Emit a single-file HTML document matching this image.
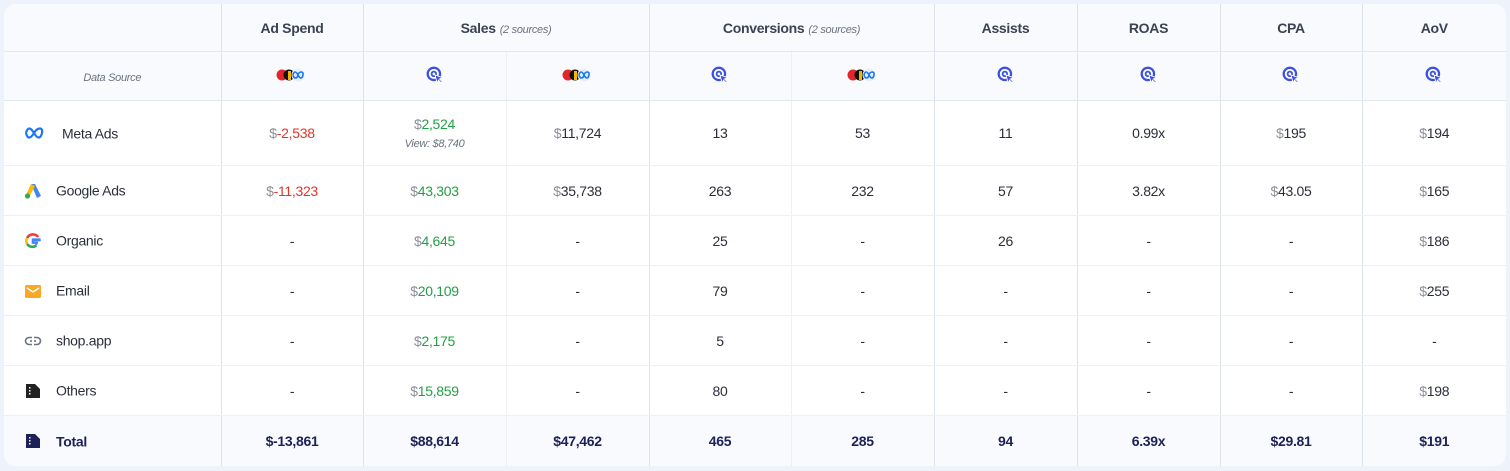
<!DOCTYPE html>
<html><head><meta charset="utf-8"><style>
html,body{margin:0;padding:0;width:1510px;height:471px;background:#eef2fb;overflow:hidden;font-family:"Liberation Sans",sans-serif;}
.card{position:absolute;left:4px;top:4px;width:1502px;height:462px;background:#fff;border-radius:12px;overflow:hidden;}
table{border-collapse:collapse;table-layout:fixed;width:1502px;}
td{padding:0;text-align:center;font-size:14px;color:#2b2f3a;letter-spacing:-0.3px;border-bottom:1px solid #edf0f5;}
td+td{border-left:1px solid #dde3ec;}
td.sub{border-left:1px solid #edf0f5;}
tr.h td{background:#f8fafd;font-weight:bold;color:#3a4253;border-bottom:1px solid #e3e8ef;}
tr.h1 td{height:47px;}
tr.h2 td{height:48px;}
tr.r td{height:49px;}
tr.meta td{height:64px;}
tr.t td{background:#f8fafd;font-weight:bold;color:#1e2157;border-bottom:none;height:50px;}
td.name{text-align:left;padding-left:20px;}
.ic{display:inline-block;width:18px;height:18px;vertical-align:middle;margin-right:14px;}
.nm{vertical-align:middle;}
.d{color:#8a8f99;font-weight:normal;}
.g{color:#22a045;}
.red{color:#e0352b;}
.src{font-style:italic;font-weight:normal;color:#6b7280;font-size:11px;margin-left:4px;}
.view{font-size:11px;font-style:italic;color:#6b7280;display:block;margin-top:6px;}
.ds{font-size:11px;font-style:italic;color:#6b7280;font-weight:normal;}
</style></head><body>
<div class="card">
<svg width="0" height="0" style="position:absolute">
<defs>
<symbol id="tg" viewBox="0 0 16 16"><circle cx="7" cy="7" r="5.5" fill="none" stroke="#3b4fe0" stroke-width="2"/><circle cx="7" cy="7" r="2" fill="none" stroke="#3b4fe0" stroke-width="1.6"/><path d="M8 8 L15 10.5 L12 11.5 L14.5 14 L13.5 15 L11 12.5 L10 15.5 Z" fill="#3b4fe0" stroke="#fff" stroke-width="0.8"/></symbol>
<symbol id="ml" viewBox="0 0 32 16"><circle cx="6" cy="8" r="5.5" fill="#e3262b"/><circle cx="13" cy="8" r="5.5" fill="#111"/><rect x="12" y="4" width="3" height="9" fill="#f4b400"/><circle cx="22" cy="8" r="6.5" fill="#e8eef8"/><path d="M17 8c1-4 3-4 5 0s4 4 5 0-4-4-5 0-4 4-5 0" fill="none" stroke="#1877f2" stroke-width="1.6"/></symbol>
</defs></svg>
<table>
<colgroup><col style="width:217px"><col style="width:142px"><col style="width:143px"><col style="width:143px"><col style="width:142px"><col style="width:143px"><col style="width:143px"><col style="width:143px"><col style="width:142px"><col style="width:144px"></colgroup>
<tr class="h h1"><td></td><td>Ad Spend</td><td colspan="2">Sales<span class="src">(2 sources)</span></td><td colspan="2">Conversions<span class="src">(2 sources)</span></td><td>Assists</td><td>ROAS</td><td>CPA</td><td>AoV</td></tr>
<tr class="h h2"><td><span class="ds">Data Source</span></td>
<td><svg width="32" height="16"><use href="#ml"/></svg></td>
<td><svg width="18" height="18"><use href="#tg"/></svg></td>
<td class="sub"><svg width="32" height="16"><use href="#ml"/></svg></td>
<td><svg width="18" height="18"><use href="#tg"/></svg></td>
<td class="sub"><svg width="32" height="16"><use href="#ml"/></svg></td>
<td><svg width="18" height="18"><use href="#tg"/></svg></td>
<td><svg width="18" height="18"><use href="#tg"/></svg></td>
<td><svg width="18" height="18"><use href="#tg"/></svg></td>
<td><svg width="18" height="18"><use href="#tg"/></svg></td></tr>
<tr class="r meta"><td class="name"><svg class="ic" style="width:20px;margin-right:18px" viewBox="0 0 20 12"><path d="M2 6c1.5-6 4.5-6 8 0s6.5 6 8 0-4.5-6-8 0-6.5 6-8 0" fill="none" stroke="#1877f2" stroke-width="2.2"/></svg><span class="nm">Meta Ads</span></td>
<td><span class="d">$</span><span class="red">-2,538</span></td>
<td><span class="d">$</span><span class="g">2,524</span><span class="view">View: $8,740</span></td>
<td class="sub"><span class="d">$</span>11,724</td><td>13</td><td class="sub">53</td><td>11</td><td>0.99x</td><td><span class="d">$</span>195</td><td><span class="d">$</span>194</td></tr>
<tr class="r"><td class="name"><svg class="ic" viewBox="0 0 18 18"><path d="M7 2 L11 2 L17 14 L13 16 Z" fill="#4285f4"/><path d="M7 2 L11 4 L5 15 L2 13 Z" fill="#fbbc04"/><circle cx="3.5" cy="14" r="2.6" fill="#34a853"/></svg><span class="nm">Google Ads</span></td>
<td><span class="d">$</span><span class="red">-11,323</span></td><td><span class="d">$</span><span class="g">43,303</span></td><td class="sub"><span class="d">$</span>35,738</td><td>263</td><td class="sub">232</td><td>57</td><td>3.82x</td><td><span class="d">$</span>43.05</td><td><span class="d">$</span>165</td></tr>
<tr class="r"><td class="name"><svg class="ic" viewBox="0 0 18 18"><path d="M15.5 9.2c0-.5 0-1-.1-1.5H9v2.9h3.7a3.2 3.2 0 0 1-1.4 2.1" fill="none" stroke="#4285f4" stroke-width="2.6"/><path d="M14.2 5A6.6 6.6 0 0 0 3.1 6" fill="none" stroke="#ea4335" stroke-width="2.6"/><path d="M3.1 6a6.6 6.6 0 0 0 0 6" fill="none" stroke="#fbbc05" stroke-width="2.6"/><path d="M3.1 12a6.6 6.6 0 0 0 9.3 1.6" fill="none" stroke="#34a853" stroke-width="2.6"/></svg><span class="nm">Organic</span></td>
<td>-</td><td><span class="d">$</span><span class="g">4,645</span></td><td class="sub">-</td><td>25</td><td class="sub">-</td><td>26</td><td>-</td><td>-</td><td><span class="d">$</span>186</td></tr>
<tr class="r"><td class="name"><svg class="ic" viewBox="0 0 18 18"><rect x="1" y="3" width="16" height="13" rx="1.5" fill="#f9a825"/><path d="M3 6 L9 10 L15 6" fill="none" stroke="#fff" stroke-width="1.5"/></svg><span class="nm">Email</span></td>
<td>-</td><td><span class="d">$</span><span class="g">20,109</span></td><td class="sub">-</td><td>79</td><td class="sub">-</td><td>-</td><td>-</td><td>-</td><td><span class="d">$</span>255</td></tr>
<tr class="r"><td class="name"><svg class="ic" viewBox="0 0 18 18"><rect x="1.5" y="5.5" width="15" height="7" rx="3.5" fill="none" stroke="#6b7280" stroke-width="1.6"/><line x1="6" y1="9" x2="12" y2="9" stroke="#6b7280" stroke-width="1.6"/><rect x="8" y="4" width="2" height="10" fill="#fff"/></svg><span class="nm">shop.app</span></td>
<td>-</td><td><span class="d">$</span><span class="g">2,175</span></td><td class="sub">-</td><td>5</td><td class="sub">-</td><td>-</td><td>-</td><td>-</td><td>-</td></tr>
<tr class="r"><td class="name"><svg class="ic" viewBox="0 0 18 18"><path d="M2 2 H11 L16 7 V16 H2 Z" fill="#222" /><rect x="5" y="5" width="1.5" height="1.5" fill="#fff"/><rect x="5" y="8" width="1.5" height="1.5" fill="#fff"/><rect x="5" y="11" width="1.5" height="1.5" fill="#fff"/></svg><span class="nm">Others</span></td>
<td>-</td><td><span class="d">$</span><span class="g">15,859</span></td><td class="sub">-</td><td>80</td><td class="sub">-</td><td>-</td><td>-</td><td>-</td><td><span class="d">$</span>198</td></tr>
<tr class="t"><td class="name"><svg class="ic" viewBox="0 0 18 18"><path d="M2 2 H11 L16 7 V16 H2 Z" fill="#1e2157" /><rect x="5" y="5" width="1.5" height="1.5" fill="#fff"/><rect x="5" y="8" width="1.5" height="1.5" fill="#fff"/><rect x="5" y="11" width="1.5" height="1.5" fill="#fff"/></svg><span class="nm">Total</span></td>
<td>$-13,861</td><td>$88,614</td><td class="sub">$47,462</td><td>465</td><td class="sub">285</td><td>94</td><td>6.39x</td><td>$29.81</td><td>$191</td></tr>
</table>
</div>
</body></html>
